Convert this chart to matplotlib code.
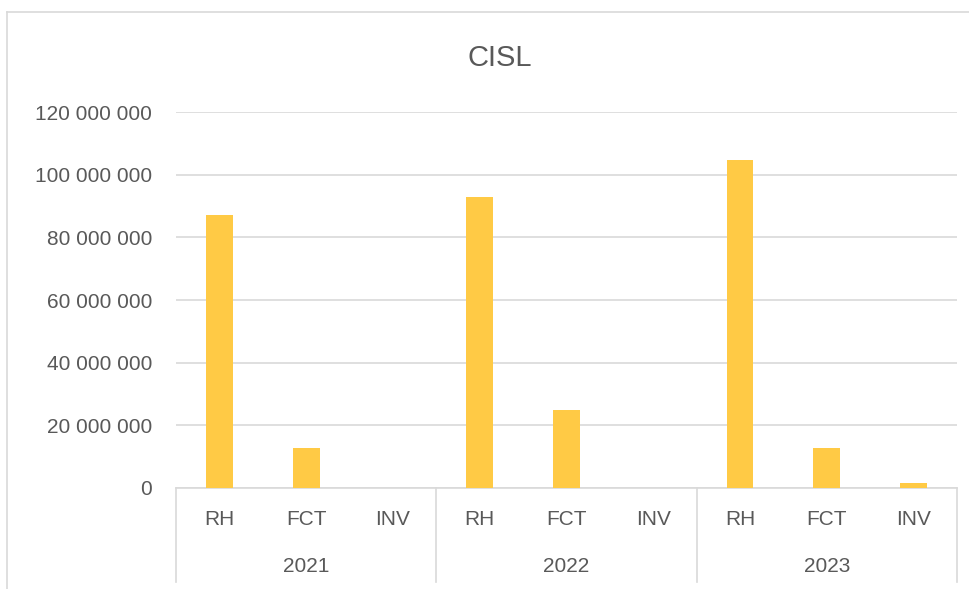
import matplotlib.pyplot as plt
from matplotlib.lines import Line2D
from matplotlib.ticker import FuncFormatter

plt.rcParams['font.family'] = ['Liberation Sans', 'DejaVu Sans']

# data
years = ["2021", "2022", "2023"]
types = ["RH", "FCT", "INV"]
rh = [87000000, 93000000, 104700000]
fct = [12800000, 24900000, 12800000]
inv = [0, 0, 1600000]

labels = []
values = []
for i in range(len(years)):
    for t, v in zip(types, [rh[i], fct[i], inv[i]]):
        labels.append(t)
        values.append(v)

text_col = "#595959"
grid_col = "#D9D9D9"

fig = plt.figure(figsize=(9.7, 5.89), dpi=100)
ax = fig.add_axes([0.1814, 0.1715, 0.8052, 0.6383])

x = list(range(len(values)))
ax.bar(x, values, width=0.31, color="#FFCA45", zorder=3)

ax.set_xlim(-0.5, len(values) - 0.5)
ax.set_ylim(0, 120000000)
ax.set_yticks(range(0, 120000001, 20000000))
ax.yaxis.set_major_formatter(FuncFormatter(lambda v, p: f"{int(v):,}".replace(",", " ")))
ax.tick_params(axis="y", length=0, labelsize=15, labelcolor=text_col, pad=17)
ax.set_xticks([])
ax.grid(axis="y", color=grid_col, linewidth=1.2, zorder=0)
for s in ["top", "right", "left"]:
    ax.spines[s].set_visible(False)
ax.spines["bottom"].set_color(grid_col)
ax.spines["bottom"].set_linewidth(1.2)

fig.text(500 / 970, 1 - 58 / 589, "CISL", fontsize=21, color=text_col,
         ha="center", va="center")

# two-level category axis
trans = ax.get_xaxis_transform()
for i, lab in enumerate(labels):
    ax.text(i, -0.085, lab, transform=trans, ha="center", va="center",
            fontsize=15, color=text_col)
for g, yr in enumerate(years):
    ax.text(g * 3 + 1, -0.21, yr, transform=trans, ha="center", va="center",
            fontsize=15, color=text_col)
for b in range(len(years) + 1):
    ax.plot([b * 3 - 0.5, b * 3 - 0.5], [0, -0.25], transform=trans,
            color=grid_col, linewidth=1.2, clip_on=False)

# chart frame
fig.add_artist(Line2D([7 / 970, 7 / 970], [0, 1 - 12 / 589], color=grid_col, linewidth=1.2))
fig.add_artist(Line2D([7 / 970, 1], [1 - 12 / 589, 1 - 12 / 589], color=grid_col, linewidth=1.2))

fig.savefig("out.png", dpi=100)
